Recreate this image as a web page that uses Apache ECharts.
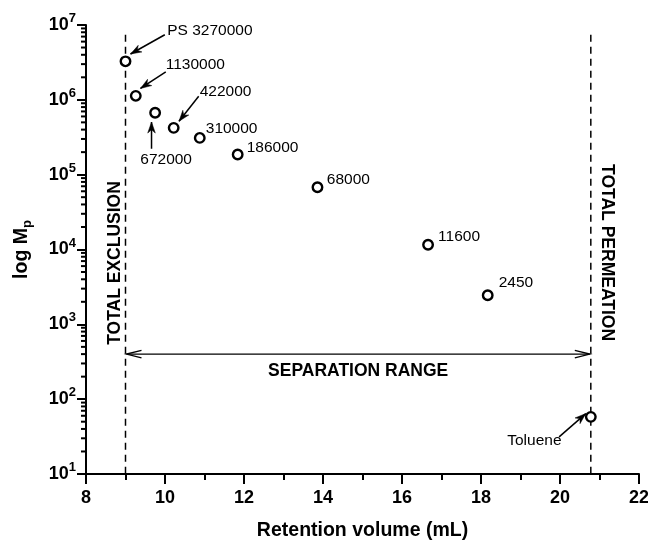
<!DOCTYPE html>
<html>
<head>
<meta charset="utf-8">
<script src="https://cdn.jsdelivr.net/npm/echarts@6/dist/echarts.min.js"></script>
<style>
  html, body { margin: 0; padding: 0; background: #fff; }
  #chart { width: 648px; height: 541px; }
</style>
</head>
<body>
<div id="chart"></div>
<script>
// ---- data ----
const retentionVolume = [9.0, 9.26, 9.75, 10.22, 10.88, 11.84, 13.86, 16.66, 18.17, 20.78];
const molarMass = [3270000, 1130000, 672000, 422000, 310000, 186000, 68000, 11600, 2450, 58];
const pointLabels = ['PS 3270000', '1130000', '672000', '422000', '310000', '186000', '68000', '11600', '2450', 'Toluene'];
const exclusionVolume = 9.0;
const permeationVolume = 20.78;
const guideTop = 7.4e6;
const guideBottom = 10;
const separationLevel = 400;
const exclusionLabelAt = 6600;
const permeationLabelAt = 9100;
const xTickRange = [8, 22];
const yTickRange = [10, 1e7];
const yMinorTicks = [];
for (let e = 1; e < 7; e++) for (let m = 2; m <= 9; m++) yMinorTicks.push(m * Math.pow(10, e));

// ---- annotation layout (pixel offsets from each point) ----
const annLayout = [
  { tx: 41.7, ty: -30.6, align: 'left', arrow: [39.3, -26.6, 5, -7.3] },
  { tx: 30, ty: -30.7, align: 'left', arrow: [30, -24, 4.7, -7.4] },
  { tx: 11, ty: 47.3, align: 'center', arrow: [-3.6, 36, -3.6, 9.3] },
  { tx: 26, ty: -36.6, align: 'left', arrow: [25, -31.6, 5.3, -6.6] },
  { tx: 6, ty: -9.6, align: 'left' },
  { tx: 9, ty: -6.7, align: 'left' },
  { tx: 9.4, ty: -7, align: 'left' },
  { tx: 10, ty: -8.3, align: 'left' },
  { tx: 11, ty: -12.4, align: 'left' },
  { tx: -29.3, ty: 24, align: 'right', arrow: [-31.7, 20, -5, -3.3] }
];

const FONT = '"Liberation Sans", Arial, Helvetica, sans-serif';

function headFilled(x0, y0, x1, y1, len, hw) {
  const dx = x1 - x0, dy = y1 - y0, d = Math.hypot(dx, dy) || 1;
  const ux = dx / d, uy = dy / d, nx = -uy, ny = ux;
  return {
    type: 'polygon',
    shape: { points: [
      [x1, y1],
      [x1 - ux * len + nx * hw, y1 - uy * len + ny * hw],
      [x1 - ux * len * 0.7, y1 - uy * len * 0.7],
      [x1 - ux * len - nx * hw, y1 - uy * len - ny * hw]
    ] },
    style: { fill: '#000', stroke: '#000', lineWidth: 0.5 }
  };
}
function headOpen(x0, y0, x1, y1, len, hw) {
  const dx = x1 - x0, dy = y1 - y0, d = Math.hypot(dx, dy) || 1;
  const ux = dx / d, uy = dy / d, nx = -uy, ny = ux;
  return {
    type: 'polyline',
    shape: { points: [
      [x1 - ux * len + nx * hw, y1 - uy * len + ny * hw],
      [x1, y1],
      [x1 - ux * len - nx * hw, y1 - uy * len - ny * hw]
    ] },
    style: { fill: null, stroke: '#000', lineWidth: 1.4 }
  };
}

const chart = echarts.init(document.getElementById('chart'), null, { renderer: 'canvas' });

const option = {
  backgroundColor: '#fff',
  animation: false,
  grid: { left: 86, right: 9, top: 25, bottom: 67, containLabel: false, outerBoundsMode: 'none' },
  xAxis: {
    type: 'value',
    min: xTickRange[0], max: xTickRange[1], interval: 2,
    name: 'Retention volume (mL)',
    nameLocation: 'middle', nameGap: 47,
    nameTextStyle: { fontFamily: FONT, fontSize: 19.5, fontWeight: 'bold', color: '#000' },
    axisLine: { show: true, onZero: false, lineStyle: { color: '#000', width: 2 } },
    axisTick: { show: true, inside: false, length: 10, lineStyle: { color: '#000', width: 2 } },
    minorTick: { show: true, splitNumber: 2, length: 6, lineStyle: { color: '#000', width: 2 } },
    axisLabel: { margin: 15, fontFamily: FONT, fontSize: 18, fontWeight: 'bold', color: '#000' },
    splitLine: { show: false }, minorSplitLine: { show: false }
  },
  yAxis: {
    type: 'log', logBase: 10,
    min: yTickRange[0], max: yTickRange[1], splitNumber: 6,
    name: '{a|log M}{p|p}',
    nameLocation: 'middle', nameGap: 52,
    nameTextStyle: {
      rich: {
        a: { fontFamily: FONT, fontSize: 19.5, fontWeight: 'bold', color: '#000', lineHeight: 24 },
        p: { fontFamily: FONT, fontSize: 13, fontWeight: 'bold', color: '#000', verticalAlign: 'bottom', lineHeight: 14 }
      }
    },
    axisLine: { show: true, onZero: false, lineStyle: { color: '#000', width: 2 } },
    axisTick: { show: true, inside: false, length: 9, lineStyle: { color: '#000', width: 2 } },
    minorTick: { show: false },
    axisLabel: {
      margin: 10,
      formatter: function (v) { return '{b|10}{s|' + Math.round(Math.log10(v)) + '}'; },
      rich: {
        b: { fontFamily: FONT, fontSize: 18, fontWeight: 'bold', color: '#000', lineHeight: 26 },
        s: { fontFamily: FONT, fontSize: 13, fontWeight: 'bold', color: '#000', verticalAlign: 'top', lineHeight: 13 }
      }
    },
    splitLine: { show: false }
  },
  series: [
    {
      type: 'line', name: 'exclusion', z: 1,
      data: [[exclusionVolume, guideTop], [exclusionVolume, guideBottom]],
      symbol: 'none', silent: true,
      lineStyle: { color: '#000', width: 1.5, type: [7, 5] }
    },
    {
      type: 'line', name: 'permeation', z: 1,
      data: [[permeationVolume, guideTop], [permeationVolume, guideBottom]],
      symbol: 'none', silent: true,
      lineStyle: { color: '#000', width: 1.5, type: [7, 5] }
    },
    {
      type: 'custom', name: 'yMinor', clip: false, silent: true, z: 3,
      data: yMinorTicks.map(v => [xTickRange[0], v]),
      renderItem: function (params, api) {
        const p = api.coord([api.value(0), api.value(1)]);
        return { type: 'line', shape: { x1: p[0] - 5, y1: p[1], x2: p[0], y2: p[1] },
                 style: { stroke: '#000', lineWidth: 2 } };
      }
    },
    {
      type: 'custom', name: 'guides', clip: false, silent: true, z: 2,
      data: [[exclusionVolume, separationLevel]],
      renderItem: function (params, api) {
        const a = api.coord([exclusionVolume, separationLevel]);
        const b = api.coord([permeationVolume, separationLevel]);
        const ex = api.coord([exclusionVolume, exclusionLabelAt]);
        const pm = api.coord([permeationVolume, permeationLabelAt]);
        return {
          type: 'group',
          children: [
            { type: 'line', shape: { x1: a[0] + 1, y1: a[1], x2: b[0] - 1, y2: b[1] }, style: { stroke: '#000', lineWidth: 1.4 } },
            headOpen(b[0], b[1], a[0] + 1, a[1], 15, 3.8),
            headOpen(a[0], a[1], b[0] - 1, b[1], 15, 3.8),
            { type: 'text', x: (a[0] + b[0]) / 2, y: a[1] + 17,
              style: { text: 'SEPARATION RANGE', fill: '#000', fontFamily: FONT, fontSize: 17.5, fontWeight: 'bold', align: 'center', verticalAlign: 'middle' } },
            { type: 'text', x: ex[0] - 10.6, y: ex[1], rotation: Math.PI / 2,
              style: { text: 'TOTAL EXCLUSION', fill: '#000', fontFamily: FONT, fontSize: 17.5, fontWeight: 'bold', align: 'center', verticalAlign: 'middle' } },
            { type: 'text', x: pm[0] + 16, y: pm[1], rotation: -Math.PI / 2,
              style: { text: 'TOTAL PERMEATION', fill: '#000', fontFamily: FONT, fontSize: 17.5, fontWeight: 'bold', align: 'center', verticalAlign: 'middle' } }
          ]
        };
      }
    },
    {
      type: 'scatter', name: 'standards', z: 5,
      data: retentionVolume.map((x, i) => [x, molarMass[i]]),
      symbol: 'circle', symbolSize: 9.5,
      itemStyle: { color: '#fff', borderColor: '#000', borderWidth: 2.4, opacity: 1 }
    },
    {
      type: 'custom', name: 'annotations', clip: false, silent: true, z: 4,
      data: retentionVolume.map((x, i) => [x, molarMass[i], i]),
      renderItem: function (params, api) {
        const i = api.value(2);
        const p = api.coord([api.value(0), api.value(1)]);
        const L = annLayout[i];
        const children = [{
          type: 'text', x: p[0] + L.tx, y: p[1] + L.ty,
          style: { text: pointLabels[i], fill: '#000', fontFamily: FONT, fontSize: 15.5, align: L.align || 'left', verticalAlign: 'middle' }
        }];
        if (L.arrow) {
          const x0 = p[0] + L.arrow[0], y0 = p[1] + L.arrow[1];
          const x1 = p[0] + L.arrow[2], y1 = p[1] + L.arrow[3];
          children.push({ type: 'line', shape: { x1: x0, y1: y0, x2: x1, y2: y1 }, style: { stroke: '#000', lineWidth: 1.5 } });
          children.push(headFilled(x0, y0, x1, y1, 11, 3.8));
        }
        return { type: 'group', children: children };
      }
    }
  ]
};
chart.setOption(option);
</script>
</body>
</html>
